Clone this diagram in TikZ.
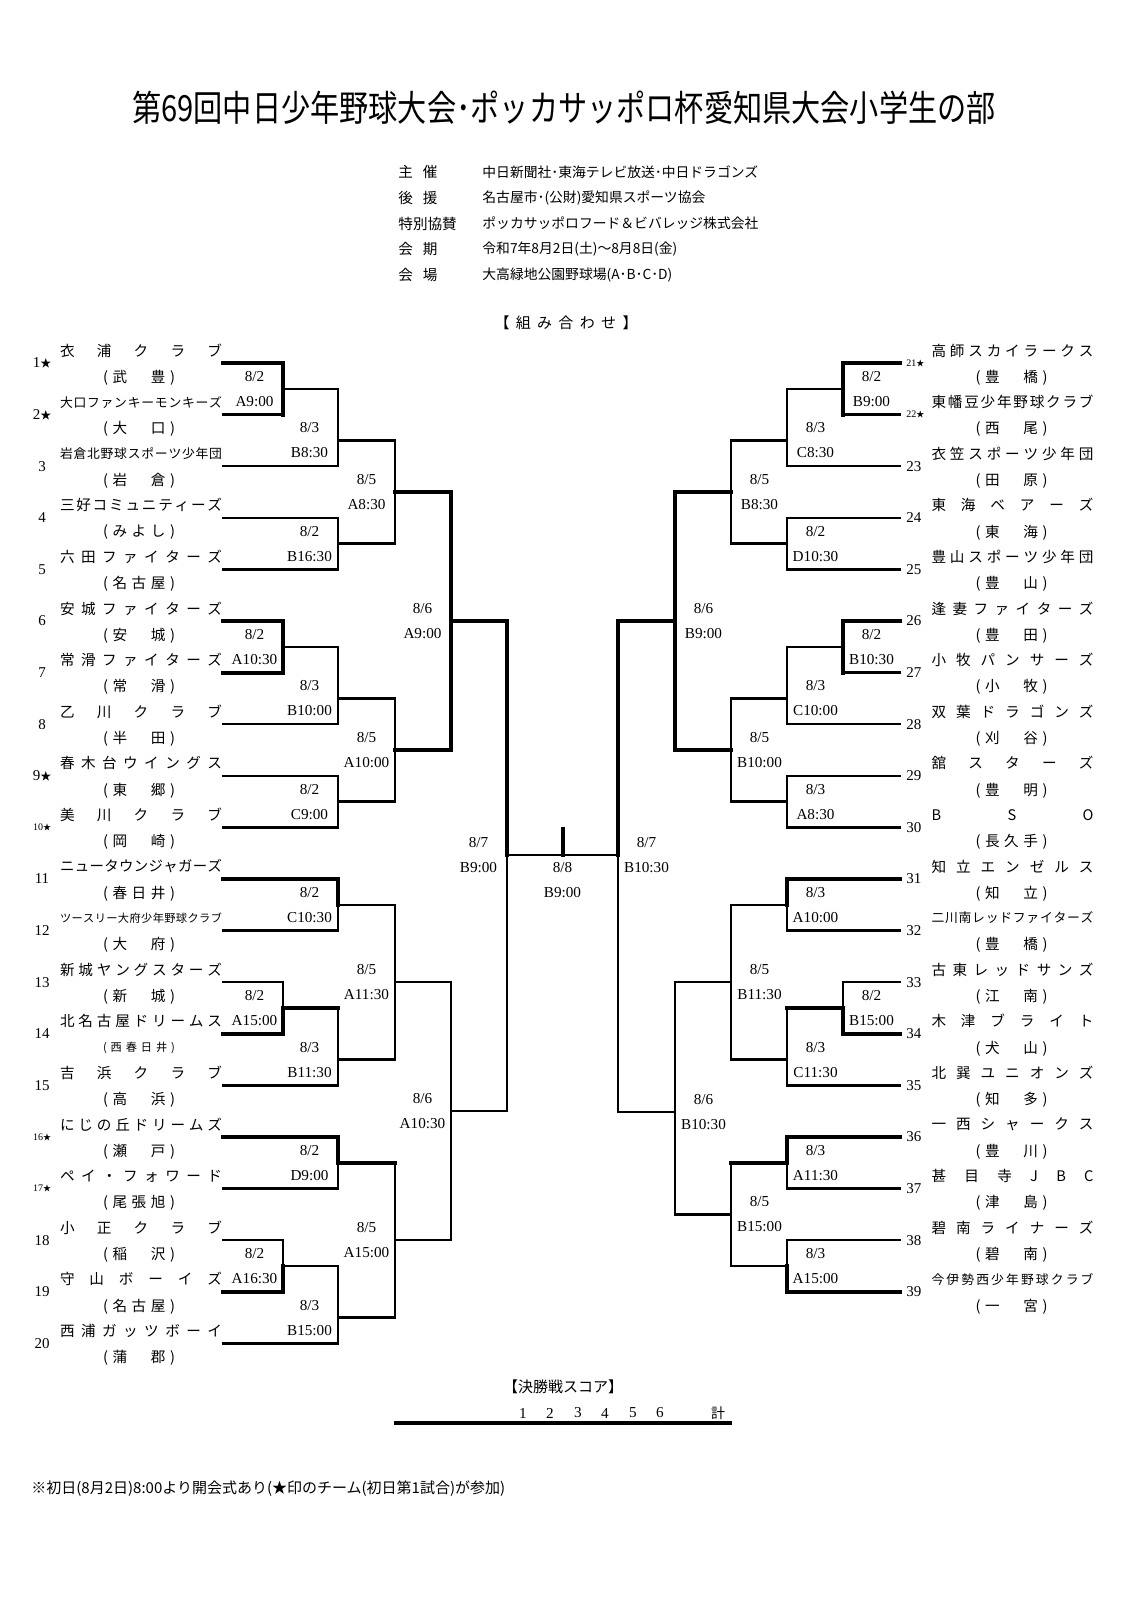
\documentclass[tikz,border=0pt]{standalone}
\usepackage{fontspec}
\usepackage{graphicx}
\setmainfont{Liberation Serif}
\newfontfamily\jp{Noto Sans CJK JP}
\usetikzlibrary{calc}

\def\spreadfirst#1{#1\spreadrest}
\def\spreadrest#1{\ifx\relax#1\else\hfil#1\expandafter\spreadrest\fi}
\newcommand\nmbox[3]{\makebox[#1][s]{\jp\fontsize{#2}{#2}\selectfont\spreadfirst#3\relax}}
\newcommand\stS{{\jp\fontsize{5.5}{5.5}\selectfont ★}}
\newcommand\smnum[1]{{\fontsize{5}{5}\selectfont #1}{\jp\fontsize{4}{4}\selectfont ★}}
\newcommand\sdir{-1}

\tikzset{
  sk/.style={line width=2pt, line cap=rect},
  sn/.style={line width=1.2pt, line cap=rect},
  dt/.style={inner sep=0pt, font=\fontsize{7.6}{7.6}\selectfont},
  num/.style={inner sep=0pt, font=\fontsize{7.5}{7.5}\selectfont},
  nm/.style={inner sep=0pt},
  lab/.style={anchor=west, inner sep=0pt, font=\jp\fontsize{7.3}{7.3}\selectfont},
  val/.style={anchor=west, inner sep=0pt, font=\jp\fontsize{6.9}{6.9}\selectfont},
}

% team on the left: #1 index, #2 number label, #3 name, #4 size, #5 town, #6 size
\newcommand\TeamL[6]{%
  \pgfmathsetmacro\yy{363+(#1-1)*51.6}%
  \coordinate (T#1) at (223,\yy);
  \node[num] (N#1) at (42,\yy) {#2};
  \node[nm] (A#1) at (141,\yy-12.5) {\nmbox{81pt}{#4}{#3}};
  \node[nm] (P#1) at (139,\yy+14.5) {\nmbox{36pt}{#6}{#5}};
}
\newcommand\TeamR[6]{%
  \pgfmathsetmacro\yy{363+(#1-21)*51.6}%
  \coordinate (T#1) at (900,\yy);
  \node[num,anchor=west] (N#1) at (906,\yy) {#2};
  \node[nm] (A#1) at (1012.5,\yy-12.5) {\nmbox{81pt}{#4}{#3}};
  \node[nm] (P#1) at (1011.5,\yy+14.5) {\nmbox{36pt}{#6}{#5}};
}
% match: #1 name, #2 entry A, #3 entry B, #4 column x, #5 output y, #6 style code, #7 date, #8 time
\newcommand\Mdraw[7]{%
  \draw[s#4] (#2) -- (#1 |- #2);
  \draw[s#5] (#1 |- #2) -- (#1);
  \draw[s#6] (#1) -- (#1 |- #3);
  \draw[s#7] (#1 |- #3) -- (#3);
}
\newcommand\Mt[8]{%
  \coordinate (#1) at (#4,#5);
  \Mdraw{#1}{#2}{#3}#6%
  \node[dt] (#1d) at ([xshift={\sdir*14.25pt},yshift=6.25pt]#1) {#7};
  \node[dt] (#1t) at ([xshift={\sdir*14.25pt},yshift=-6.25pt]#1) {#8};
}

\begin{document}
\begin{tikzpicture}[x=0.5pt,y=-0.5pt]
\fill[white] (0,0) rectangle (1131,1601);
\useasboundingbox (0,0) rectangle (1131,1601);

% header
\node[inner sep=0pt] (title) at (564,108) {\scalebox{0.81}[1]{\jp\fontsize{18}{18}\selectfont 第69回中日少年野球大会･ポッカサッポロ杯愛知県大会小学生の部}};

\node[lab] (i1) at (398,172) {\makebox[19.5pt][s]{主\hfil 催}};
\node[lab] (i2) at (398,198) {\makebox[19.5pt][s]{後\hfil 援}};
\node[lab] (i3) at (398,223.5) {特別協賛};
\node[lab] (i4) at (398,249) {\makebox[19.5pt][s]{会\hfil 期}};
\node[lab] (i5) at (398,275) {\makebox[19.5pt][s]{会\hfil 場}};
\node[val] (v1) at (482,172) {中日新聞社･東海テレビ放送･中日ドラゴンズ};
\node[val] (v2) at (482,198) {名古屋市･(公財)愛知県スポーツ協会};
\node[val] (v3) at (482,223.5) {ポッカサッポロフード＆ビバレッジ株式会社};
\node[val] (v4) at (482,249) {令和7年8月2日(土)～8月8日(金)};
\node[val] (v5) at (482,275) {大高緑地公園野球場(A･B･C･D)};

\node[nm] (kumi) at (566,323) {\nmbox{71.5pt}{7.5}{【組み合わせ】}};

% teams left
\TeamL{1}{1\stS}{衣浦クラブ}{7.3}{(武　豊)}{7.3}
\TeamL{2}{2\stS}{大口ファンキーモンキーズ}{6.4}{(大　口)}{7.3}
\TeamL{3}{3}{岩倉北野球スポーツ少年団}{6.4}{(岩　倉)}{7.3}
\TeamL{4}{4}{三好コミュニティーズ}{7.3}{(みよし)}{7.3}
\TeamL{5}{5}{六田ファイターズ}{7.3}{(名古屋)}{7.3}
\TeamL{6}{6}{安城ファイターズ}{7.3}{(安　城)}{7.3}
\TeamL{7}{7}{常滑ファイターズ}{7.3}{(常　滑)}{7.3}
\TeamL{8}{8}{乙川クラブ}{7.3}{(半　田)}{7.3}
\TeamL{9}{9\stS}{春木台ウイングス}{7.3}{(東　郷)}{7.3}
\TeamL{10}{\smnum{10}}{美川クラブ}{7.3}{(岡　崎)}{7.3}
\TeamL{11}{11}{ニュータウンジャガーズ}{7.2}{(春日井)}{7.3}
\TeamL{12}{12}{ツースリー大府少年野球クラブ}{5.6}{(大　府)}{7.3}
\TeamL{13}{13}{新城ヤングスターズ}{7.3}{(新　城)}{7.3}
\TeamL{14}{14}{北名古屋ドリームス}{7.3}{(西春日井)}{5.6}
\TeamL{15}{15}{吉浜クラブ}{7.3}{(高　浜)}{7.3}
\TeamL{16}{\smnum{16}}{にじの丘ドリームズ}{7.3}{(瀬　戸)}{7.3}
\TeamL{17}{\smnum{17}}{ペイ・フォワード}{7.3}{(尾張旭)}{7.3}
\TeamL{18}{18}{小正クラブ}{7.3}{(稲　沢)}{7.3}
\TeamL{19}{19}{守山ボーイズ}{7.3}{(名古屋)}{7.3}
\TeamL{20}{20}{西浦ガッツボーイ}{7.3}{(蒲　郡)}{7.3}

% teams right
\TeamR{21}{\smnum{21}}{高師スカイラークス}{7.3}{(豊　橋)}{7.3}
\TeamR{22}{\smnum{22}}{東幡豆少年野球クラブ}{7.3}{(西　尾)}{7.3}
\TeamR{23}{23}{衣笠スポーツ少年団}{7.3}{(田　原)}{7.3}
\TeamR{24}{24}{東海ベアーズ}{7.3}{(東　海)}{7.3}
\TeamR{25}{25}{豊山スポーツ少年団}{7.3}{(豊　山)}{7.3}
\TeamR{26}{26}{逢妻ファイターズ}{7.3}{(豊　田)}{7.3}
\TeamR{27}{27}{小牧パンサーズ}{7.3}{(小　牧)}{7.3}
\TeamR{28}{28}{双葉ドラゴンズ}{7.3}{(刈　谷)}{7.3}
\TeamR{29}{29}{舘スターズ}{7.3}{(豊　明)}{7.3}
\TeamR{30}{30}{BSO}{7.3}{(長久手)}{7.3}
\TeamR{31}{31}{知立エンゼルス}{7.3}{(知　立)}{7.3}
\TeamR{32}{32}{二川南レッドファイターズ}{6.4}{(豊　橋)}{7.3}
\TeamR{33}{33}{古東レッドサンズ}{7.3}{(江　南)}{7.3}
\TeamR{34}{34}{木津ブライト}{7.3}{(犬　山)}{7.3}
\TeamR{35}{35}{北巽ユニオンズ}{7.3}{(知　多)}{7.3}
\TeamR{36}{36}{一西シャークス}{7.3}{(豊　川)}{7.3}
\TeamR{37}{37}{甚目寺JBC}{7.3}{(津　島)}{7.3}
\TeamR{38}{38}{碧南ライナーズ}{7.3}{(碧　南)}{7.3}
\TeamR{39}{39}{今伊勢西少年野球クラブ}{6.4}{(一　宮)}{7.3}

% left bracket
\renewcommand\sdir{-1}
\Mt{L1}{T1}{T2}{283}{388.8}{kkkn}{8/2}{A9:00}
\Mt{L2}{L1}{T3}{338}{440.4}{nnnn}{8/3}{B8:30}
\Mt{L3}{T4}{T5}{338}{543.6}{nnnn}{8/2}{B16:30}
\Mt{L4}{L2}{L3}{395}{492}{nnnn}{8/5}{A8:30}
\Mt{L5}{T6}{T7}{283}{646.8}{kkkk}{8/2}{A10:30}
\Mt{L6}{L5}{T8}{338}{698.4}{nnnn}{8/3}{B10:00}
\Mt{L7}{T9}{T10}{338}{801.6}{nnnn}{8/2}{C9:00}
\Mt{L8}{L6}{L7}{395}{750}{nnnn}{8/5}{A10:00}
\Mt{L9}{L4}{L8}{451}{621}{kkkk}{8/6}{A9:00}
\Mt{L10}{T11}{T12}{338}{904.8}{kknn}{8/2}{C10:30}
\Mt{L11}{T13}{T14}{283}{1008}{nnkk}{8/2}{A15:00}
\Mt{L12}{L11}{T15}{338}{1059.6}{knnn}{8/3}{B11:30}
\Mt{L13}{L10}{L12}{395}{982.2}{nnnn}{8/5}{A11:30}
\Mt{L14}{T16}{T17}{338}{1162.8}{kknn}{8/2}{D9:00}
\Mt{L15}{T18}{T19}{283}{1266}{nnkk}{8/2}{A16:30}
\Mt{L16}{L15}{T20}{338}{1317.6}{nnnn}{8/3}{B15:00}
\Mt{L17}{L14}{L16}{395}{1240.2}{knnn}{8/5}{A15:00}
\Mt{L18}{L13}{L17}{451}{1111.2}{nnnn}{8/6}{A10:30}
\Mt{L19}{L9}{L18}{507}{855}{kknn}{8/7}{B9:00}

% right bracket
\renewcommand\sdir{1}
\Mt{R1}{T21}{T22}{843}{388.8}{kkkn}{8/2}{B9:00}
\Mt{R2}{R1}{T23}{787}{440.4}{nnnn}{8/3}{C8:30}
\Mt{R3}{T24}{T25}{787}{543.6}{nnnn}{8/2}{D10:30}
\Mt{R4}{R2}{R3}{731}{492}{nnnn}{8/5}{B8:30}
\Mt{R5}{T26}{T27}{843}{646.8}{kkkn}{8/2}{B10:30}
\Mt{R6}{R5}{T28}{787}{698.4}{nnnn}{8/3}{C10:00}
\Mt{R7}{T29}{T30}{787}{801.6}{nnnn}{8/3}{A8:30}
\Mt{R8}{R6}{R7}{731}{750}{nnnn}{8/5}{B10:00}
\Mt{R9}{R4}{R8}{675}{621}{kkkk}{8/6}{B9:00}
\Mt{R10}{T31}{T32}{787}{904.8}{kknn}{8/3}{A10:00}
\Mt{R11}{T33}{T34}{843}{1008}{nnkk}{8/2}{B15:00}
\Mt{R12}{R11}{T35}{787}{1059.6}{knnn}{8/3}{C11:30}
\Mt{R13}{R10}{R12}{731}{982.2}{nnnn}{8/5}{B11:30}
\Mt{R14}{T36}{T37}{787}{1162.8}{kknn}{8/3}{A11:30}
\Mt{R15}{T38}{T39}{787}{1266}{nnkk}{8/3}{A15:00}
\Mt{R16}{R14}{R15}{731}{1214.4}{knnn}{8/5}{B15:00}
\Mt{R17}{R13}{R16}{675}{1112}{nnnn}{8/6}{B10:30}
\Mt{R18}{R9}{R17}{618}{855}{kknn}{8/7}{B10:30}

% final
\coordinate (FT) at (562.5,829);
\coordinate (FB) at (562.5,855);
\draw[sn] (L19) -- (R18);
\draw[sk] (FT) -- (FB);
\node[dt] (Fd) at (562.5,868) {8/8};
\node[dt] (Ft) at (562.5,893) {B9:00};

% final score
\node[nm] (score) at (563,1387) {\jp\fontsize{7.5}{7.5}\selectfont 【決勝戦スコア】};
\node[dt] (sc1) at (523,1413) {1};
\node[dt] (sc2) at (550,1413) {2};
\node[dt] (sc3) at (578,1413) {3};
\node[dt] (sc4) at (605,1413) {4};
\node[dt] (sc5) at (633,1413) {5};
\node[dt] (sc6) at (660,1413) {6};
\node[nm] (sct) at (718,1413) {\jp\fontsize{7}{7}\selectfont 計};
\coordinate (S1) at (394,1423);
\coordinate (S2) at (732,1423);
\draw[line width=2.2pt] (S1) -- (S2);

\node[anchor=west,inner sep=0pt,font=\jp\fontsize{7.5}{7.5}\selectfont] (foot) at (31,1489) {※初日(8月2日)8:00より開会式あり(★印のチーム(初日第1試合)が参加)};
\end{tikzpicture}
\end{document}
